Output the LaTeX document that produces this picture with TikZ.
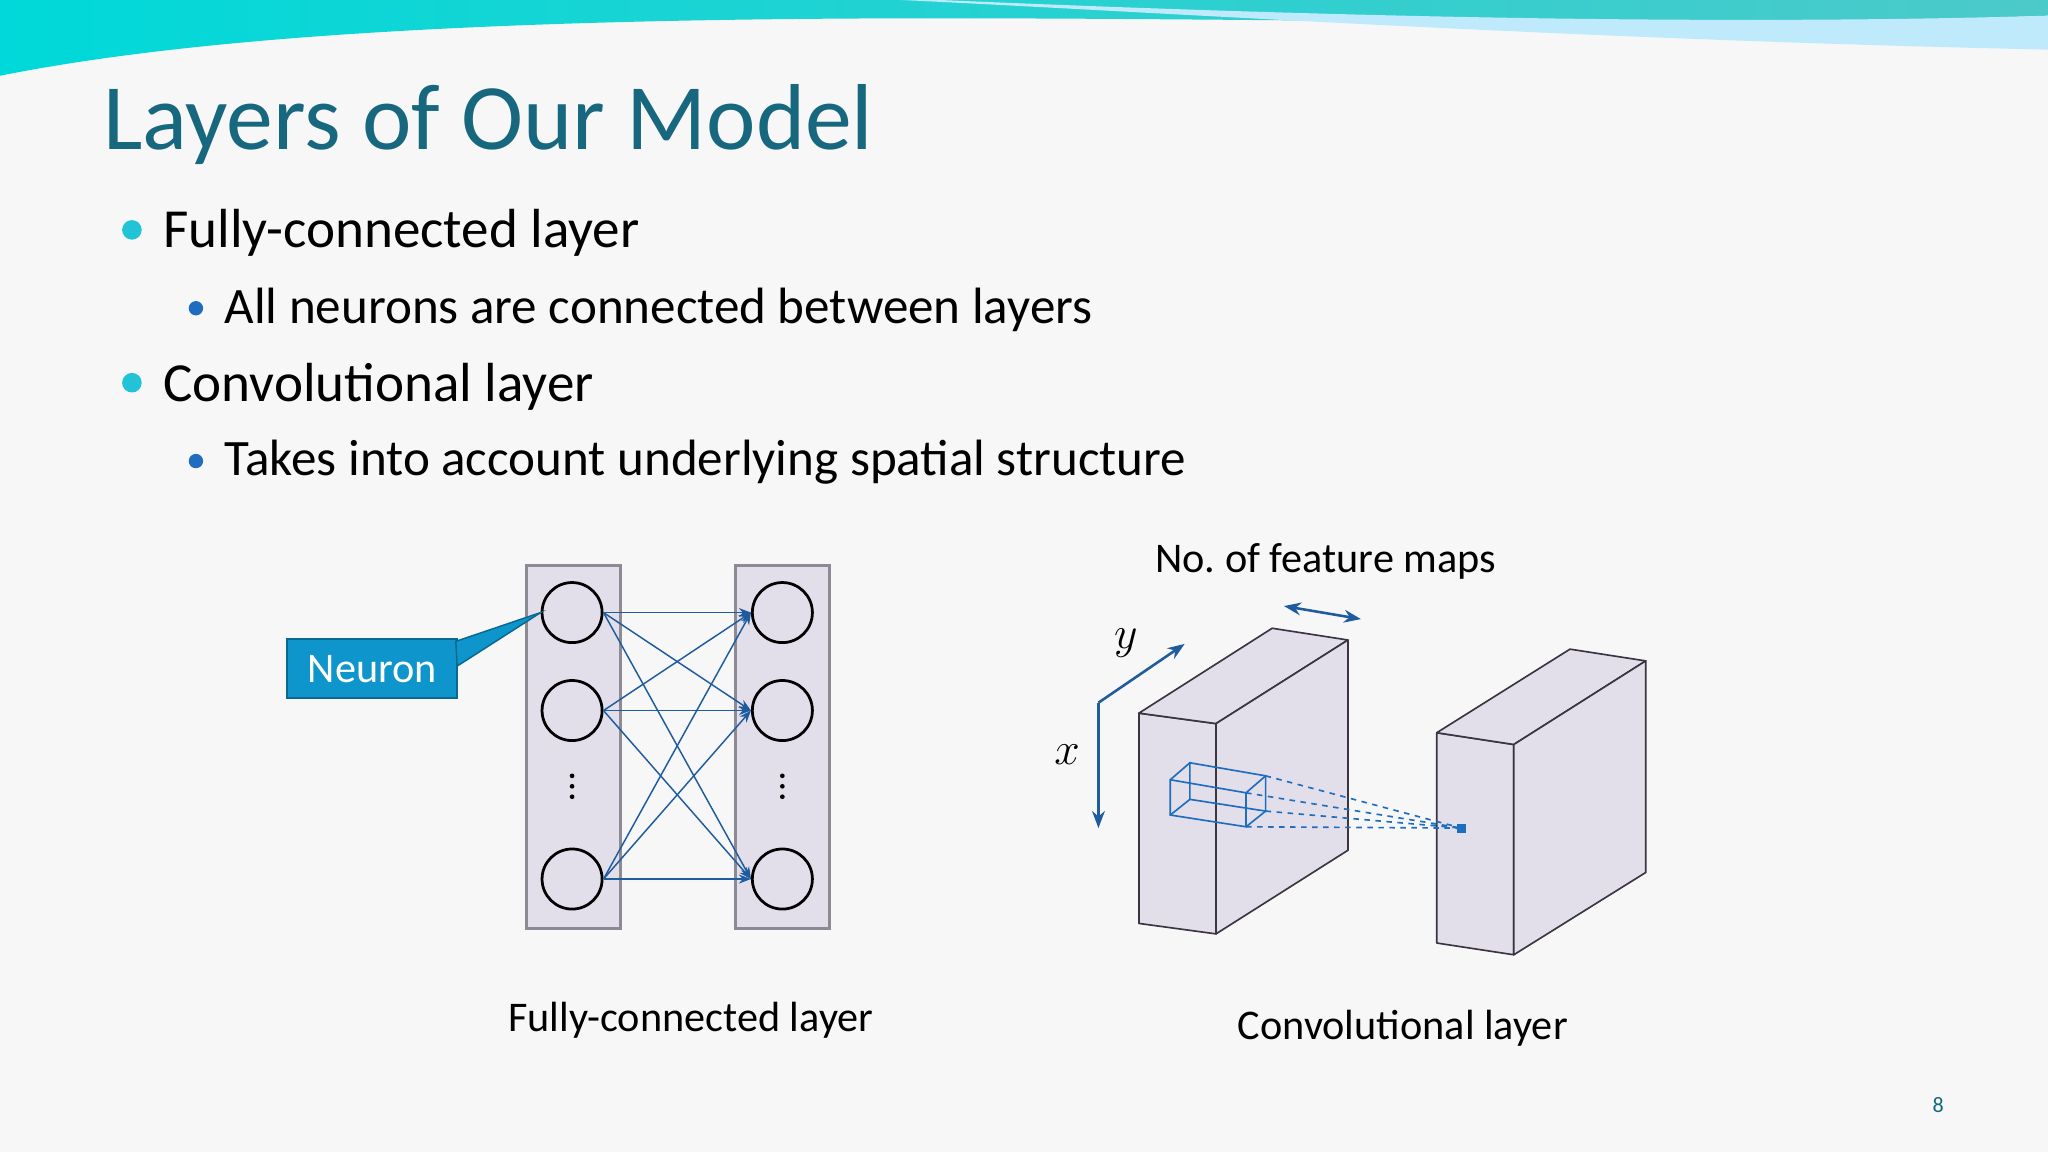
\documentclass[tikz,border=0pt]{standalone}
\usepackage{fontspec}
\setmainfont{Carlito}
\usetikzlibrary{arrows.meta}
\usetikzlibrary{positioning}
\tikzset{>=Stealth}
\definecolor{titleteal}{HTML}{17687E}
\definecolor{bulcyan}{HTML}{22C3D6}
\definecolor{bulblue}{HTML}{1F6DBF}
\definecolor{linkblue}{HTML}{1F5C9E}
\definecolor{facefill}{HTML}{E2DEEA}
\definecolor{edgegray}{HTML}{3A3540}
\definecolor{colgray}{HTML}{8E8A94}
\definecolor{calloutblue}{HTML}{0E95CC}
\tikzstyle{neuron}=[draw=black,line width=1.5pt,circle,minimum size=46*0.025cm,inner sep=0pt]
\tikzstyle{column}=[draw=colgray,line width=1.6pt,fill=facefill]
\tikzstyle{face}=[draw=edgegray,line width=0.9pt,fill=facefill,line join=round]
\frenchspacing
\begin{document}
\begin{tikzpicture}[x=0.025cm, y=-0.025cm, link/.style = {->, draw=linkblue, line width=0.8pt}]
	% background and wave
	\fill[white!94!blue!40!gray!10] (0,0) rectangle (1568,882);
	\useasboundingbox (0,0) rectangle (1568,882);
	\shade[left color=cyan!70!teal, right color=cyan!40!teal!70] (0,0) -- (0,58) .. controls (150,28) and (380,14) .. (720,14) .. controls (1000,14) and (1300,22) .. (1568,12) -- (1568,0) -- cycle;
	\fill[cyan!25] (690,0) .. controls (900,10) and (1200,30) .. (1568,38) -- (1568,12) .. controls (1300,20) and (1000,12) .. (720,0) -- cycle;
	% title and bullets
	\node[anchor=west, text=titleteal, font=\fontsize{51}{55}\selectfont] (title) at (74,95) {Layers of Our Model};
	\node[anchor=west, font=\fontsize{30}{34}\selectfont] (b1) at (120,178) {Fully-connected layer};
	\node[anchor=west, font=\fontsize{27.8}{32}\selectfont] (b2) at (167,237) {All neurons are connected between layers};
	\node[anchor=west, font=\fontsize{30}{34}\selectfont] (b3) at (120,296) {Convolutional layer};
	\node[anchor=west, font=\fontsize{27.8}{32}\selectfont] (b4) at (167,354) {Takes into account underlying spatial structure};
	\fill[bulcyan] (101,176) circle (7.5) (101,293) circle (7.5);
	\fill[bulblue] (150,236) circle (5.5) (150,353) circle (5.5);
	% fully-connected layer
	\draw[column] (403,433) rectangle (475,711);
	\draw[column] (563,433) rectangle (635,711);
	\foreach \i/\y in {1/469,2/544,3/673} {
		\node[neuron] (l\i) at (438,\y) {};
		\node[neuron] (r\i) at (599,\y) {};
	}
	\foreach \x in {438,599}
		\foreach \y in {594,602,610}
			\fill (\x,\y) circle (1.8);
	\foreach \i in {1,2,3}
		\foreach \j in {1,2,3}
			\draw[link] (l\i.east) -- (r\j.west);
	\node[draw=calloutblue!70!black, fill=calloutblue, text=white, line width=1pt, minimum width=130*0.025cm, minimum height=45*0.025cm, font=\fontsize{23}{27}\selectfont] (neuron) at (285,512) {Neuron};
	\fill[calloutblue, draw=calloutblue!70!black, line width=0.8pt] (349,491) -- (l1.west) -- (350,510) -- cycle;
	\node[font=\fontsize{23}{27}\selectfont] (fclabel) at (529,781) {Fully-connected layer};
	% convolutional layer
	\draw[face] (872,546) -- (931,554) -- (931,715) -- (872,707) -- cycle;
	\draw[face] (872,546) -- (974,481) -- (1032,490) -- (931,554) -- cycle;
	\draw[face] (931,554) -- (1032,490) -- (1032,651) -- (931,715) -- cycle;
	\draw[face] (1100,561) -- (1159,570) -- (1159,731) -- (1100,722) -- cycle;
	\draw[face] (1100,561) -- (1202,497) -- (1260,506) -- (1159,570) -- cycle;
	\draw[face] (1159,570) -- (1260,506) -- (1260,668) -- (1159,731) -- cycle;
	% receptive field
	\begin{scope}[draw=bulblue, line width=0.9pt]
		\coordinate (k1) at (896,597); \coordinate (k2) at (954,607);
		\coordinate (k3) at (954,633); \coordinate (k4) at (896,624);
		\coordinate (k5) at (911,584); \coordinate (k6) at (969,594);
		\coordinate (k7) at (969,621); \coordinate (k8) at (911,612);
		\draw (k1) -- (k2) -- (k3) -- (k4) -- cycle;
		\draw (k5) -- (k6) -- (k7) -- (k8) -- cycle;
		\draw (k1) -- (k5) (k2) -- (k6) (k3) -- (k7) (k4) -- (k8);
		\coordinate (px) at (1119,634);
		\draw[dashed] (k6) -- (px) (k2) -- (px) (k7) -- (px) (k3) -- (px);
		\fill[bulblue] (px) ++(-3.5,-3.5) rectangle ++(7,7);
	\end{scope}
	\coordinate (origin) at (841,538);
	\coordinate (yend) at (907,493);
	\coordinate (xend) at (841,634);
	\draw[->, draw=linkblue, line width=1.4pt] (origin) -- (yend);
	\draw[->, draw=linkblue, line width=1.4pt] (origin) -- (xend);
	\node[font=\fontsize{26}{30}\selectfont] (ylab) at (862,492) {$y$};
	\node[font=\fontsize{26}{30}\selectfont] (xlab) at (817,578) {$x$};
	\coordinate (fa) at (983,464);
	\coordinate (fb) at (1042,474);
	\draw[<->, draw=linkblue, line width=1.4pt] (fa) -- (fb);
	\node[font=\fontsize{23}{27}\selectfont] (fmaps) at (1015,430) {No. of feature maps};
	\node[font=\fontsize{23}{27}\selectfont] (convlabel) at (1074,787) {Convolutional layer};
	\node[text=titleteal, font=\fontsize{12}{14}\selectfont] (pagenum) at (1484,846) {8};
\end{tikzpicture}
\end{document}
